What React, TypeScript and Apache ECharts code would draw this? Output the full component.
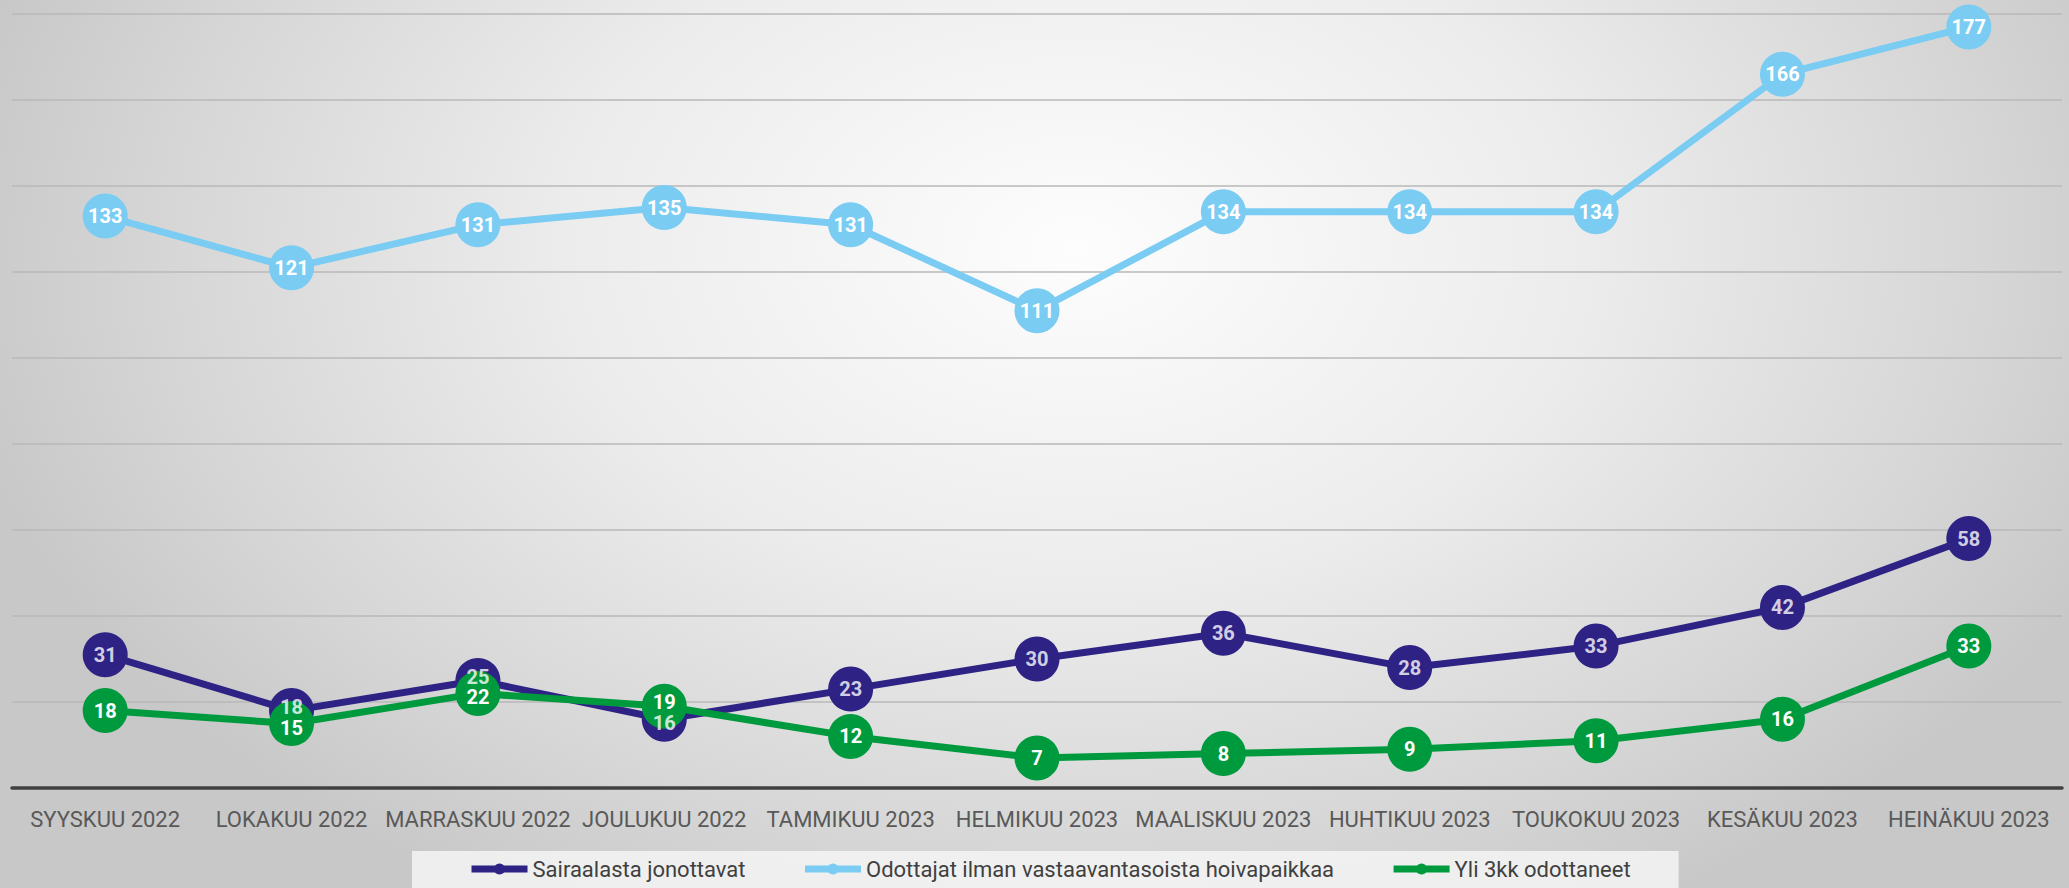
import React, { useEffect, useRef } from "react";
import * as echarts from "echarts";

const categories = [
  "SYYSKUU 2022",
  "LOKAKUU 2022",
  "MARRASKUU 2022",
  "JOULUKUU 2022",
  "TAMMIKUU 2023",
  "HELMIKUU 2023",
  "MAALISKUU 2023",
  "HUHTIKUU 2023",
  "TOUKOKUU 2023",
  "KESÄKUU 2023",
  "HEINÄKUU 2023",
];
const sairaalasta = [31, 18, 25, 16, 23, 30, 36, 28, 33, 42, 58];
const odottajat = [133, 121, 131, 135, 131, 111, 134, 134, 134, 166, 177];
const yli3kk = [18, 15, 22, 19, 12, 7, 8, 9, 11, 16, 33];

const seriesNames = [
  "Sairaalasta jonottavat",
  "Odottajat ilman vastaavantasoista hoivapaikkaa",
  "Yli 3kk odottaneet",
];
const colors = ["#2E2385", "#7ACCF2", "#009A3E"];

const FONT = "Roboto, 'Open Sans', sans-serif";

export default function App() {
  const ref = useRef<HTMLDivElement>(null);
  useEffect(() => {
    if (!ref.current) return;
    const chart = echarts.init(ref.current, undefined, { renderer: "svg" });
    const datasets = [sairaalasta, odottajat, yli3kk];
    const labelStyle = {
      show: true,
      position: "inside",
      color: "#ffffff",
      fontWeight: "bold",
      fontSize: 20,
      fontFamily: FONT,
    };
    // when two close values share a month, nudge their labels apart a little
    const nudge = (a: number, b: number) =>
      Math.abs(a - b) < 5 ? (a > b ? -4 : 4) : 0;

    const lineSeries: any[] = datasets.map((d, i) => ({
      name: seriesNames[i],
      type: "line",
      data:
        i === 2
          ? d.map((v, k) => ({
              value: v,
              label: { offset: [0, nudge(v, sairaalasta[k])] },
            }))
          : d,
      symbol: "circle",
      symbolSize: 45,
      z: 2 + i,
      lineStyle: { color: colors[i], width: 7 },
      itemStyle: { color: colors[i] },
      label: labelStyle,
      emphasis: { disabled: true },
    }));
    lineSeries[0].label = { show: false };
    // label-only overlay so the first series' values stay readable above the green markers
    const overlay = {
      name: "labels-overlay",
      type: "scatter",
      data: sairaalasta.map((v, k) => ({
        value: v,
        label: { offset: [0, nudge(v, yli3kk[k])] },
      })),
      symbolSize: 2,
      z: 10,
      itemStyle: { color: "rgba(0,0,0,0)" },
      label: labelStyle,
      emphasis: { disabled: true },
      silent: true,
    };
    chart.setOption({
      animation: false,
      backgroundColor: "transparent",
      grid: { left: 12, right: 7, top: 14, bottom: 100, containLabel: false },
      xAxis: {
        type: "category",
        data: categories,
        boundaryGap: true,
        axisLine: { show: true, lineStyle: { color: "#404040", width: 3.5 } },
        axisTick: { show: false },
        axisLabel: {
          color: "#595959",
          fontSize: 22,
          fontFamily: FONT,
          margin: 20,
          interval: 0,
        },
      },
      yAxis: {
        type: "value",
        min: 0,
        max: 180,
        interval: 20,
        axisLabel: { show: false },
        axisLine: { show: false },
        axisTick: { show: false },
        splitLine: { lineStyle: { color: "#b8b8b8", width: 1.5 } },
      },
      legend: {
        left: 412,
        top: 851,
        padding: [7, 48, 8, 56],
        backgroundColor: "rgba(245,245,245,0.85)",
        itemWidth: 56,
        itemHeight: 14,
        itemGap: 56,
        lineStyle: { width: 7 },
        textStyle: { color: "#404040", fontSize: 22, fontFamily: FONT },
        data: seriesNames,
      },
      series: [...lineSeries, overlay],
    });
    return () => chart.dispose();
  }, []);
  return (
    <div
      style={{
        position: "absolute",
        left: 0,
        top: 0,
        width: 2069,
        height: 888,
        background:
          "radial-gradient(ellipse 55% 85% at 52% 28%, #fdfdfd 0%, #ececec 45%, #d6d6d6 80%, #c8c8c8 100%)",
      }}
    >
      <div ref={ref} style={{ width: 2069, height: 888 }} />
    </div>
  );
}
